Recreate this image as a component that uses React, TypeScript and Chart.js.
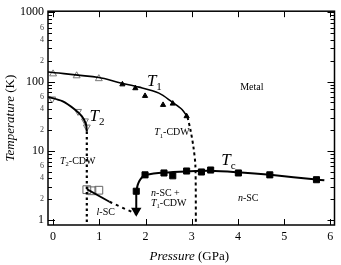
import React, { useEffect, useRef } from "react";
import { Chart, registerables } from "chart.js";
Chart.register(...registerables);

const FONT = '"Liberation Serif", "Times New Roman", serif';

// axis ticks
const xTicks = [0, 1, 2, 3, 4, 5, 6];
const yLabelTicks = [1, 2, 4, 6, 10, 20, 40, 60, 100, 200, 400, 600, 1000];
const yMajor = [1, 10, 100, 1000];
const yDecades = [1, 10, 100];
const yMinorMult = [2, 3, 4, 5, 6, 7, 8, 9];

// T1 (CDW) data
const t1OpenP = [0, 0.51, 0.99];
const t1OpenT = [129, 121, 110];
const t1FilledP = [1.5, 1.78, 1.99, 2.38, 2.59, 2.89];
const t1FilledT = [91, 80, 62, 46, 48, 31.6];
const t1LineP = [-0.11, 0.99, 1.44, 1.86, 2.29, 2.57, 2.79, 2.91];
const t1LineT = [137, 114, 96, 83, 68, 51, 39.5, 30.6];
const t1DashP = [2.91, 2.98, 3.04, 3.08, 3.09];
const t1DashT = [30.6, 19, 11, 6, 0.85];

// T2 (CDW) data
const t2OpenP = [-0.02, 0.54, 0.69, 0.73];
const t2OpenT = [56, 37, 27, 22];
const t2LineP = [-0.11, 0.2, 0.47, 0.62, 0.71, 0.73];
const t2LineT = [60, 52, 39.5, 31.6, 24.5, 19];
const t2DotP = [0.73, 0.73];
const t2DotT = [19, 0.85];

// l-SC data
const lscOpenP = [0.73, 0.84, 0.99];
const lscOpenT = [2.75, 2.65, 2.7];
const lscLineP = [0.73, 1.22];
const lscLineT = [2.8, 1.84];
const lscDashP = [1.22, 1.82];
const lscDashT = [1.84, 1.21];

// Tc (n-SC) data
const tcP = [1.8, 1.99, 2.4, 2.59, 2.89, 3.21, 3.41, 4.01, 4.69, 5.7];
const tcT = [2.61, 4.5, 4.79, 4.36, 5.11, 4.95, 5.28, 4.79, 4.5, 3.83];
const tcLineP = [1.8, 1.83, 1.87, 1.93, 2.01, 2.4, 2.9, 3.4, 4.0, 4.7, 5.7, 5.87];
const tcLineT = [2.6, 3.2, 3.7, 4.2, 4.5, 4.85, 5.05, 5.15, 4.9, 4.5, 3.85, 3.75];
const arrowP = [1.8, 1.8];
const arrowT = [2.6, 1.36];

type Part = { t: string; i?: boolean; sub?: boolean };
type Label = { x: number; y: number; size: number; parts: Part[] };

const labels: Label[] = [
  { x: 2.03, y: 85, size: 17, parts: [{ t: "T", i: true }, { t: "1", sub: true }] },
  { x: 0.79, y: 27, size: 17, parts: [{ t: "T", i: true }, { t: "2", sub: true }] },
  { x: 3.64, y: 6.2, size: 17, parts: [{ t: "T", i: true }, { t: "c", sub: true }] },
  { x: 4.05, y: 75, size: 10, parts: [{ t: "Metal" }] },
  { x: 2.19, y: 16.7, size: 10, parts: [{ t: "T", i: true }, { t: "1", sub: true }, { t: "-CDW" }] },
  { x: 0.15, y: 6.4, size: 10, parts: [{ t: "T", i: true }, { t: "2", sub: true }, { t: "-CDW" }] },
  { x: 2.12, y: 2.22, size: 10, parts: [{ t: "n", i: true }, { t: "-SC +" }] },
  { x: 2.12, y: 1.62, size: 10, parts: [{ t: "T", i: true }, { t: "1", sub: true }, { t: "-CDW" }] },
  { x: 4.0, y: 1.9, size: 10, parts: [{ t: "n", i: true }, { t: "-SC" }] },
  { x: 0.94, y: 1.17, size: 10, parts: [{ t: "l", i: true }, { t: "-SC" }] },
];

const pts = (p: number[], t: number[]) => p.map((x, i) => ({ x, y: t[i] }));

function richWidth(ctx: CanvasRenderingContext2D, parts: Part[], size: number) {
  let w = 0;
  for (const p of parts) {
    const s = p.sub ? size * 0.65 : size;
    ctx.font = `${p.i ? "italic " : ""}${s}px ${FONT}`;
    w += ctx.measureText(p.t).width;
  }
  return w;
}

function drawRich(ctx: CanvasRenderingContext2D, x: number, y: number, parts: Part[], size: number) {
  let cx = x;
  for (const p of parts) {
    const s = p.sub ? size * 0.65 : size;
    ctx.font = `${p.i ? "italic " : ""}${s}px ${FONT}`;
    ctx.fillText(p.t, cx, y + (p.sub ? size * 0.22 : 0));
    cx += ctx.measureText(p.t).width;
  }
}

const overlay = {
  id: "overlay",
  afterDraw(chart: any) {
    const { ctx, chartArea: a } = chart;
    const x = chart.scales.x;
    const y = chart.scales.y;
    ctx.save();
    ctx.strokeStyle = "#000";
    ctx.lineWidth = 1;
    const seg = (x1: number, y1: number, x2: number, y2: number) => {
      ctx.beginPath();
      ctx.moveTo(x1, y1);
      ctx.lineTo(x2, y2);
      ctx.stroke();
    };
    xTicks.forEach((v) => {
      const px = Math.round(x.getPixelForValue(v)) + 0.5;
      seg(px, a.bottom, px, a.bottom - 6);
      seg(px, a.top, px, a.top + 6);
    });
    const yt = (v: number, len: number) => {
      const py = Math.round(y.getPixelForValue(v)) + 0.5;
      seg(a.left, py, a.left + len, py);
      seg(a.right, py, a.right - len, py);
    };
    yDecades.forEach((d) => {
      yt(d, 7);
      yMinorMult.forEach((m) => yt(m * d, 4));
    });
    yt(1000, 7);
    ctx.lineWidth = 1.5;
    ctx.strokeRect(a.left, a.top, a.right - a.left, a.bottom - a.top);

    ctx.fillStyle = "#000";
    ctx.textBaseline = "alphabetic";
    ctx.textAlign = "left";
    labels.forEach((l) => {
      drawRich(ctx, x.getPixelForValue(l.x), y.getPixelForValue(l.y), l.parts, l.size);
    });

    // axis titles
    ctx.textBaseline = "middle";
    const xt: Part[] = [{ t: "Pressure", i: true }, { t: " (GPa)" }];
    const xw = richWidth(ctx, xt, 13);
    drawRich(ctx, (a.left + a.right) / 2 - 2 - xw / 2, 257, xt, 13);
    const ytl: Part[] = [{ t: "Temperature", i: true }, { t: " (K)" }];
    const yw = richWidth(ctx, ytl, 13);
    ctx.translate(11, (a.top + a.bottom) / 2);
    ctx.rotate(-Math.PI / 2);
    drawRich(ctx, -yw / 2, 0, ytl, 13);
    ctx.restore();
  },
};

export default function App() {
  const ref = useRef<HTMLCanvasElement>(null);
  useEffect(() => {
    document.body.style.margin = "0";
    const line = (data: any, extra: any = {}) => ({
      data,
      showLine: true,
      pointRadius: 0,
      borderColor: "#000",
      borderWidth: 1.6,
      tension: 0.3,
      fill: false,
      ...extra,
    });
    const marks = (data: any, extra: any) => ({
      data,
      showLine: false,
      borderColor: "#000",
      backgroundColor: "#000",
      borderWidth: 1,
      ...extra,
    });
    const chart = new Chart(ref.current!, {
      type: "scatter",
      data: {
        datasets: [
          line(pts(t1LineP, t1LineT)),
          line(pts(t1DashP, t1DashT), { borderDash: [3, 3], borderWidth: 2 }),
          line(pts(t2LineP, t2LineT), { borderWidth: 2 }),
          line(pts(t2DotP, t2DotT), { borderDash: [2.5, 3], borderWidth: 2.2, tension: 0 }),
          line(pts(lscLineP, lscLineT), { borderWidth: 1.8, tension: 0 }),
          line(pts(lscDashP, lscDashT), { borderDash: [3, 4], borderWidth: 2, tension: 0 }),
          line(pts(tcLineP, tcLineT), { borderWidth: 2 }),
          line(pts(arrowP, arrowT), {
            borderWidth: 2,
            tension: 0,
            pointRadius: [0, 4],
            pointStyle: "triangle",
            rotation: 180,
            pointBackgroundColor: "#000",
            pointBorderColor: "#000",
          }),
          marks(pts(t1OpenP, t1OpenT), { pointStyle: "triangle", pointRadius: 4, backgroundColor: "#fff", borderColor: "#777" }),
          marks(pts(t1FilledP, t1FilledT), { pointStyle: "triangle", pointRadius: 3 }),
          marks(pts(t2OpenP, t2OpenT), { pointStyle: "triangle", rotation: 180, pointRadius: 4, backgroundColor: "rgba(255,255,255,0)", borderColor: "#777" }),
          marks(pts(lscOpenP, lscOpenT), { pointStyle: "rect", pointRadius: 5.5, backgroundColor: "rgba(255,255,255,0)", borderColor: "#666" }),
          marks(pts(tcP, tcT), { pointStyle: "rect", pointRadius: 4.3 }),
        ],
      },
      options: {
        responsive: false,
        animation: false,
        events: [],
        layout: { padding: { top: 3, right: 4, left: 0, bottom: 0 } },
        plugins: { legend: { display: false }, tooltip: { enabled: false } },
        scales: {
          x: {
            type: "linear",
            min: -0.11,
            max: 6.09,
            afterFit: (s: any) => {
              s.height = 40;
            },
            afterBuildTicks: (s: any) => {
              s.ticks = xTicks.map((v) => ({ value: v }));
            },
            grid: { display: false, drawTicks: false },
            border: { display: false },
            ticks: {
              padding: 5,
              color: "#000",
              font: { family: FONT, size: 12 },
              callback: (v: any) => String(v),
            },
          },
          y: {
            type: "logarithmic",
            min: 0.85,
            max: 1035,
            afterFit: (s: any) => {
              s.width = 48;
            },
            afterBuildTicks: (s: any) => {
              s.ticks = yLabelTicks.map((v) => ({ value: v }));
            },
            grid: { display: false, drawTicks: false },
            border: { display: false },
            ticks: {
              padding: 4,
              autoSkip: false,
              color: (c: any) => (yMajor.includes(c.tick.value) ? "#000" : "#444"),
              font: (c: any) => ({ family: FONT, size: yMajor.includes(c.tick?.value) ? 12 : 8 }),
              callback: (v: any) => {
                const n = Number(v);
                if (yMajor.includes(n)) return String(n);
                const d = Math.pow(10, Math.floor(Math.log10(n) + 1e-9));
                return String(Math.round(n / d));
              },
            },
          },
        },
      },
      plugins: [overlay],
    });
    return () => chart.destroy();
  }, []);
  return (
    <div style={{ width: 341, height: 265 }}>
      <canvas ref={ref} width={341} height={265} />
    </div>
  );
}
